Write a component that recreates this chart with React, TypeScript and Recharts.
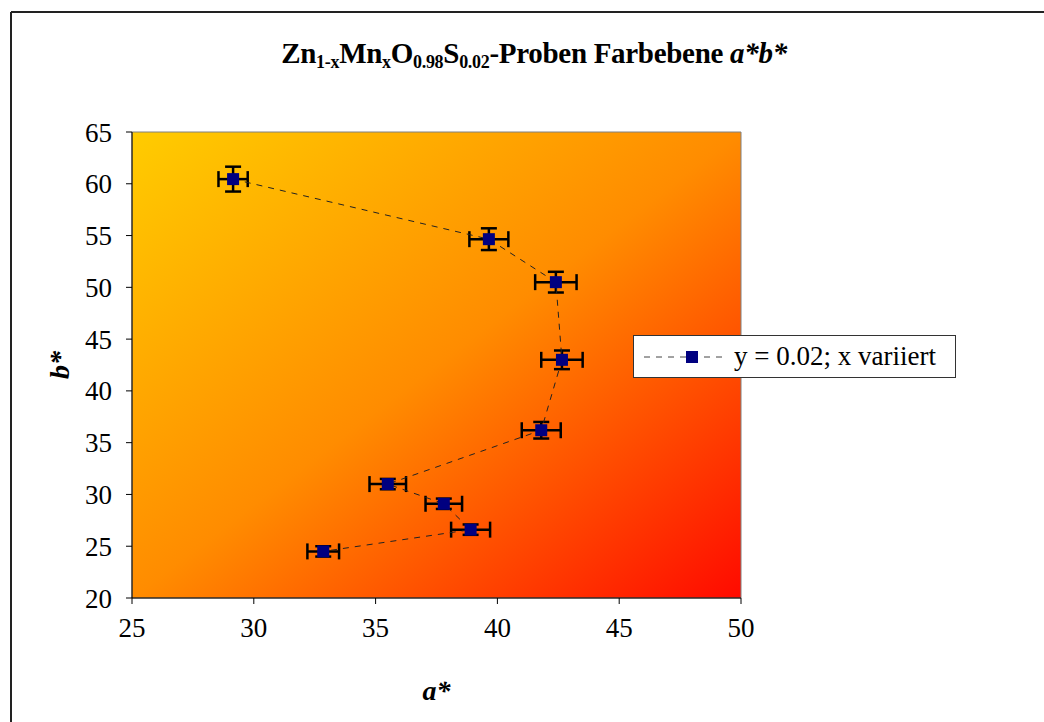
import React from "react";
import {
  ScatterChart,
  Scatter,
  XAxis,
  YAxis,
  CartesianGrid,
  ErrorBar,
  ReferenceArea,
} from "recharts";

// a*/b* colour coordinates, Zn1-xMnxO0.98S0.02 series
const aValues = [29.15, 39.65, 42.4, 42.65, 41.8, 35.5, 37.8, 38.9, 32.85];
const bValues = [60.45, 54.65, 50.5, 43.0, 36.2, 31.0, 29.1, 26.6, 24.5];
const aErrors = [0.6, 0.8, 0.85, 0.85, 0.8, 0.75, 0.75, 0.8, 0.65];
const bErrors = [1.2, 1.05, 1.0, 0.9, 0.8, 0.5, 0.5, 0.5, 0.5];
const xTicks = [25, 30, 35, 40, 45, 50];
const yTicks = [20, 25, 30, 35, 40, 45, 50, 55, 60, 65];
const seriesName = "y = 0.02; x variiert";

const data = aValues.map((a, i) => ({
  a,
  b: bValues[i],
  ea: aErrors[i],
  eb: bErrors[i],
}));

const FONT = '"Liberation Serif", "Times New Roman", serif';

const Square = (props: any) => {
  const { cx, cy } = props;
  return <rect x={cx - 6} y={cy - 6} width={12} height={12} fill="#000080" />;
};

const subStyle: React.CSSProperties = { fontSize: 18, verticalAlign: "-5px" };

export default function App() {
  return (
    <div
      style={{
        position: "absolute",
        left: 0,
        top: 0,
        width: 1044,
        height: 722,
        overflow: "hidden",
        background: "#fff",
      }}
    >
      <svg width={1044} height={722} style={{ position: "absolute", left: 0, top: 0 }}>
        <line x1={11} y1={12} x2={1044} y2={12} stroke="#222" strokeWidth={2} />
        <line x1={11} y1={12} x2={11} y2={722} stroke="#222" strokeWidth={2} />
      </svg>
      <div
        style={{
          position: "absolute",
          left: 0,
          width: 1068,
          top: 37,
          textAlign: "center",
          fontFamily: FONT,
          fontWeight: "bold",
          fontSize: 29,
          letterSpacing: -0.3,
        }}
      >
        Zn<sub style={subStyle}>1-x</sub>Mn<sub style={subStyle}>x</sub>O
        <sub style={subStyle}>0.98</sub>S<sub style={subStyle}>0.02</sub>-Proben Farbebene{" "}
        <i>a*b*</i>
      </div>
      <ScatterChart
        width={1044}
        height={722}
        margin={{ top: 132, right: 303, bottom: 0, left: 0 }}
        style={{ position: "absolute", left: 0, top: 0, fontFamily: FONT }}
      >
        <defs>
          <linearGradient id="bg" x1="0" y1="0" x2="1" y2="1">
            <stop offset="0%" stopColor="#FFCC00" />
            <stop offset="50%" stopColor="#FF8C00" />
            <stop offset="100%" stopColor="#FF0A00" />
          </linearGradient>
        </defs>
        <CartesianGrid fill="url(#bg)" horizontal={false} vertical={false} />
        <XAxis
          type="number"
          dataKey="a"
          domain={[25, 50]}
          ticks={xTicks}
          height={124}
          tickSize={6}
          tickMargin={14}
          axisLine={{ stroke: "#000" }}
          tickLine={{ stroke: "#000" }}
          tick={{ fill: "#000", fontSize: 27, fontFamily: FONT }}
          label={{
            value: "a*",
            position: "insideBottom",
            offset: 22,
            style: { fontSize: 28, fontWeight: "bold", fontStyle: "italic", fill: "#000", fontFamily: FONT },
          }}
        />
        <YAxis
          type="number"
          dataKey="b"
          domain={[20, 65]}
          ticks={yTicks}
          width={132}
          tickSize={6}
          tickMargin={14}
          axisLine={{ stroke: "#000" }}
          tickLine={{ stroke: "#000" }}
          tick={{ fill: "#000", fontSize: 27, fontFamily: FONT }}
          label={{
            value: "b*",
            position: "center",
            angle: -90,
            dx: -7,
            style: { fontSize: 28, fontWeight: "bold", fontStyle: "italic", fill: "#000", fontFamily: FONT },
          }}
        />
        <ReferenceArea x1={25} x2={50} y1={20} y2={65} fill="none" stroke="#808080" strokeWidth={1} />
        <Scatter
          name={seriesName}
          data={data}
          shape={<Square />}
          line={{ stroke: "#222", strokeWidth: 1, strokeDasharray: "6 6" }}
          isAnimationActive={false}
        >
          <ErrorBar dataKey="ea" direction="x" width={8} stroke="#000" strokeWidth={2.5} />
          <ErrorBar dataKey="eb" direction="y" width={8} stroke="#000" strokeWidth={2.5} />
        </Scatter>
      </ScatterChart>
      <div
        style={{
          position: "absolute",
          left: 633,
          top: 335,
          width: 323,
          height: 43,
          border: "1px solid #333",
          background: "#fff",
          display: "flex",
          alignItems: "center",
          fontFamily: FONT,
          fontSize: 27,
          boxSizing: "border-box",
        }}
      >
        <svg width={90} height={20} style={{ marginLeft: 8 }}>
          <line x1={2} y1={10} x2={82} y2={10} stroke="#444" strokeWidth={1} strokeDasharray="6 6" />
          <rect x={44} y={4} width={12} height={12} fill="#000080" />
        </svg>
        <span style={{ marginLeft: 2 }}>{seriesName}</span>
      </div>
    </div>
  );
}
